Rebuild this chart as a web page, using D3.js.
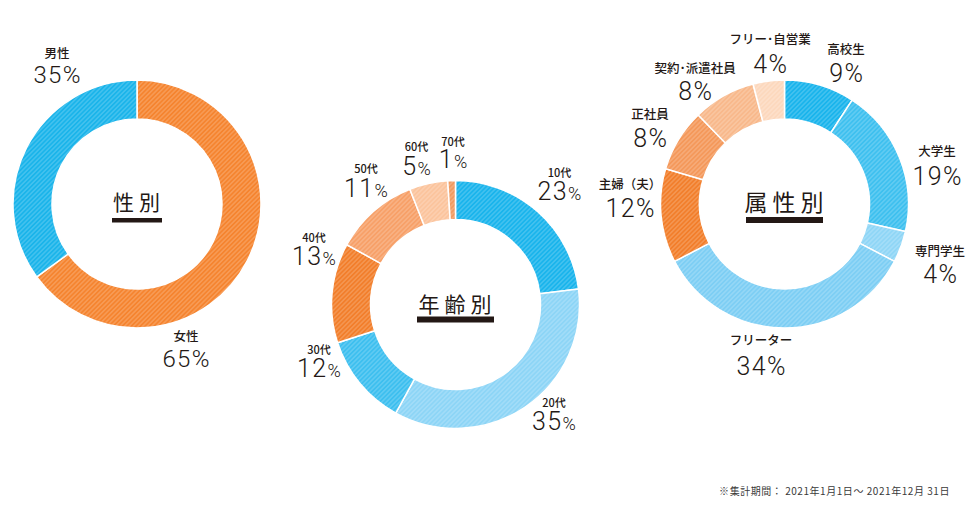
<!DOCTYPE html>
<html>
<head>
<meta charset="utf-8">
<script src="https://cdn.jsdelivr.net/npm/d3@7"></script>
<style>
  html, body { margin: 0; padding: 0; background: #fff; }
  svg { display: block; }
</style>
</head>
<body>
<svg id="chart" width="977" height="507"></svg>
<script>
// ---------- data ----------
const genderCategories = ["女性", "男性"];
const genderValues = [65, 35];

const ageCategories = ["10代", "20代", "30代", "40代", "50代", "60代", "70代"];
const ageValues = [23, 35, 12, 13, 11, 5, 1];

const attrCategories = ["高校生", "大学生", "専門学生", "フリーター", "主婦（夫）", "正社員", "契約･派遣社員", "フリー･自営業"];
const attrValues = [9, 19, 4, 34, 12, 8, 8, 4];

const titles = ["性別", "年齢別", "属性別"];
const footnote = "※集計期間： 2021年1月1日～ 2021年12月 31日";

// ---------- styles / layout ----------
const genderColors = ["#f5842f", "#1ab4ea"];
const ageColors = ["#19b4ec", "#8dd5f6", "#3dbfef", "#f27e2b", "#f7a068", "#fbc49d", "#f19a60"];
const attrColors = ["#19b4ec", "#3ec0ef", "#8fd6f6", "#7dcef4", "#f27e2b", "#f4985a", "#f8b88b", "#fcd8bd"];

const charts = [
  {
    cx: 137, cy: 204, cats: genderCategories, vals: genderValues, colors: genderColors,
    title: titles[0], titleSize: 21, barW: 50, barH: 4.5, titleDy: 6, barDy: 14,
    catSize: 12.5, numSize: 24, pctScale: 1,
    labels: [[49, 137, 163], [-80, -146, -121]]
  },
  {
    cx: 455.5, cy: 304.5, cats: ageCategories, vals: ageValues, colors: ageColors,
    title: titles[1], titleSize: 21, barW: 77, barH: 6, titleDy: 7, barDy: 12,
    catSize: 11, numSize: 25, pctScale: 0.72,
    labels: [[104, -127.5, -104.5], [98.5, 102.5, 125.5], [-136.5, 49, 72], [-141.5, -63, -39.5],
             [-89.5, -132, -108], [-39, -154, -129.5], [-2.5, -158.5, -136.5]]
  },
  {
    cx: 784.5, cy: 204, cats: attrCategories, vals: attrValues, colors: attrColors,
    title: titles[2], titleSize: 23, barW: 77, barH: 6, titleDy: 7, barDy: 13,
    catSize: 12.5, numSize: 25, pctScale: 1,
    labels: [[61.5, -150, -122.5], [152.5, -48, -19], [155.5, 52, 79], [-23.5, 141, 171],
             [-154.5, -15, 12.5], [-134.5, -85, -57.5], [-89.5, -131.5, -104], [-14.5, -160.5, -131]]
  }
];

const outerR = 124, innerR = 85;
const textColor = "#231815";
const numFont = "Roboto, 'Open Sans', sans-serif";
const jpFont = "'Noto Sans CJK JP', 'Noto Sans', sans-serif";

const svg = d3.select("#chart");
const defs = svg.append("defs");

const pie = d3.pie().sort(null).value(d => d);
const arc = d3.arc().innerRadius(innerR).outerRadius(outerR);

let pid = 0;
function stripePattern(color) {
  const id = "stripe" + (pid++);
  const p = defs.append("pattern")
    .attr("id", id)
    .attr("patternUnits", "userSpaceOnUse")
    .attr("width", 3.2).attr("height", 3.2)
    .attr("patternTransform", "rotate(45)");
  p.append("rect").attr("width", 3.2).attr("height", 3.2).attr("fill", color);
  p.append("line").attr("x1", 0.8).attr("y1", 0).attr("x2", 0.8).attr("y2", 3.2)
    .attr("stroke", "#ffffff").attr("stroke-opacity", 0.28).attr("stroke-width", 1);
  return "url(#" + id + ")";
}

charts.forEach(c => {
  const g = svg.append("g").attr("transform", `translate(${c.cx},${c.cy})`);
  const arcs = pie(c.vals);

  g.selectAll("path.slice")
    .data(arcs)
    .join("path")
    .attr("class", "slice")
    .attr("d", arc)
    .attr("fill", (d, i) => stripePattern(c.colors[i]))
    .attr("stroke", "#ffffff")
    .attr("stroke-width", 1.5)
    .attr("stroke-linejoin", "round");

  // center title
  g.append("text")
    .attr("x", 2).attr("y", c.titleDy)
    .attr("text-anchor", "middle")
    .attr("font-family", jpFont)
    .attr("font-weight", 400)
    .attr("font-size", c.titleSize)
    .attr("letter-spacing", 5)
    .attr("fill", textColor)
    .text(c.title);
  g.append("rect")
    .attr("x", -c.barW / 2).attr("y", c.barDy)
    .attr("width", c.barW).attr("height", c.barH)
    .attr("fill", textColor);

  // labels
  const lg = g.selectAll("g.label")
    .data(arcs)
    .join("g")
    .attr("class", "label")
    .attr("transform", (d, i) => `translate(${c.labels[i][0]},0)`);

  lg.append("text")
    .attr("y", (d, i) => c.labels[i][1])
    .attr("text-anchor", "middle")
    .attr("font-family", jpFont)
    .attr("font-weight", 500)
    .attr("font-size", c.catSize)
    .attr("fill", textColor)
    .text((d, i) => c.cats[i]);

  const nt = lg.append("text")
    .attr("x", 0.7)
    .attr("y", (d, i) => c.labels[i][2])
    .attr("text-anchor", "middle")
    .attr("font-family", numFont)
    .attr("font-weight", 300)
    .attr("font-size", c.numSize)
    .attr("letter-spacing", 1.4)
    .attr("fill", textColor);
  nt.append("tspan").text(d => d.data);
  nt.append("tspan").attr("font-size", c.numSize * c.pctScale).text("%");
});

svg.append("text")
  .attr("x", 950).attr("y", 495)
  .attr("text-anchor", "end")
  .attr("font-family", jpFont)
  .attr("font-size", 10)
  .attr("letter-spacing", 0.55)
  .attr("fill", "#3a3a3a")
  .text(footnote);
</script>
</body>
</html>
